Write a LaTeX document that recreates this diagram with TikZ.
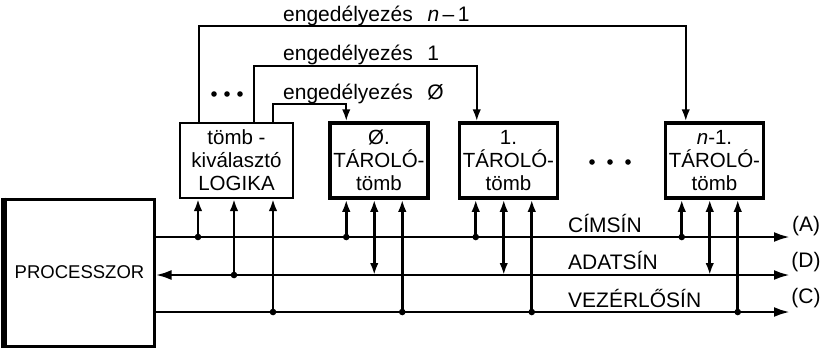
\documentclass[tikz,border=0pt]{standalone}
\usepackage{fontspec}
\setmainfont{Liberation Sans}
\usetikzlibrary{arrows.meta}
\tikzset{
  blokk/.style={draw,line width=2pt,minimum height=75pt,align=center,inner sep=2pt,font=\fontsize{20.5}{23}\selectfont},
  tarolo/.style={blokk,line width=3.5pt,minimum width=98pt},
  busz/.style={line width=2.8pt},
  enged/.style={line width=2.2pt},
  felirat/.style={inner sep=0pt,font=\fontsize{21}{23}\selectfont},
  tip/.style={-{Latex[length=12pt,width=8.5pt]}},
  dtip/.style={{Latex[length=12pt,width=8.5pt]}-{Latex[length=12pt,width=8.5pt]}},
}
\begin{document}
\begin{tikzpicture}[x=1pt,y=-1pt]
    \useasboundingbox (0,0) rectangle (826,349);
    % blocks
    \node[blokk,minimum width=113pt] (lg) at (236.5,160.5) {tömb -\\kiválasztó\\LOGIKA};
    \node[tarolo] (t0) at (379,160.5) {Ø.\\TÁROLÓ-\\tömb};
    \node[tarolo] (t1) at (508.5,160.5) {1.\\TÁROLÓ-\\tömb};
    \node[tarolo] (tn) at (714.5,160.5) {\textit{n}-1.\\TÁROLÓ-\\tömb};
    \node[blokk,line width=3pt,minimum width=149pt,minimum height=147pt,font=\fontsize{18.5}{22}\selectfont] (proc) at (79.5,272.5) {PROCESSZOR};
    \draw[line width=5pt] (proc.north west) -- (proc.south west);
    \foreach \x in {592,610,628} \fill (\x,162) circle (2.8);

    % bus lines
    \coordinate (cimR) at (790,237);
    \coordinate (adatR) at (790,275);
    \coordinate (vezR) at (790,312);
    \draw[busz,-{Latex[length=16pt,width=10pt]}] (proc.east |- cimR) -- (cimR);
    \draw[busz,{Latex[length=16pt,width=10pt]}-{Latex[length=16pt,width=10pt]}] (proc.east |- adatR) -- (adatR);
    \draw[busz,-{Latex[length=16pt,width=10pt]}] (proc.east |- vezR) -- (vezR);
    \node[felirat,anchor=base west] (cim) at (568,232) {CÍMSÍN};
    \node[felirat,anchor=base west] (adat) at (568,269) {ADATSÍN};
    \node[felirat,anchor=base west] (vez) at (568,307) {VEZÉRLŐSÍN};
    \node[felirat] (A) at (806,226) {(A)};
    \node[felirat] (D) at (806,262) {(D)};
    \node[felirat] (C) at (806,298) {(C)};

    % taps of the logic
    \coordinate (lg-a) at ([xshift=19pt]lg.south west);
    \coordinate (lg-d) at ([xshift=55pt]lg.south west);
    \coordinate (lg-c) at ([xshift=94pt]lg.south west);
    \draw[busz,tip] (lg-a |- cimR) -- (lg-a);\fill (lg-a |- cimR) circle (3.3);
    \draw[busz,tip] (lg-d |- adatR) -- (lg-d);\fill (lg-d |- adatR) circle (3.3);
    \draw[busz,tip] (lg-c |- vezR) -- (lg-c);\fill (lg-c |- vezR) circle (3.3);

    % taps of the stores
    \foreach \b in {t0,t1,tn}{
        \coordinate (\b-a) at ([xshift=18pt]\b.south west);
        \coordinate (\b-d) at ([xshift=46pt]\b.south west);
        \coordinate (\b-c) at ([xshift=74pt]\b.south west);
        \draw[busz,tip] (\b-a |- cimR) -- (\b-a);\fill (\b-a |- cimR) circle (3.3);
        \draw[busz,dtip] (\b-d |- adatR) -- (\b-d);
        \draw[busz,tip] (\b-c |- vezR) -- (\b-c);\fill (\b-c |- vezR) circle (3.3);
    }

    % enable lines
    \coordinate (lg-e0) at ([xshift=94pt]lg.north west);
    \coordinate (lg-e1) at ([xshift=75pt]lg.north west);
    \coordinate (lg-en) at ([xshift=20pt]lg.north west);
    \coordinate (t0-e) at ([xshift=18pt]t0.north west);
    \coordinate (t1-e) at ([xshift=19pt]t1.north west);
    \coordinate (tn-e) at ([xshift=22pt]tn.north west);
    \draw[enged,tip] (lg-e0) -- ++(0,-18) -| (t0-e);
    \draw[enged,tip] (lg-e1) -- ++(0,-56) -| (t1-e);
    \draw[enged,tip] (lg-en) -- ++(0,-96) -| (tn-e);
    \node[felirat,anchor=base west] (en0) at (283,99) {engedélyezés\hspace{.7em}Ø};
    \node[felirat,anchor=base west] (en1) at (283,60) {engedélyezés\hspace{.7em}1};
    \node[felirat,anchor=base west] (enn) at (283,21) {engedélyezés\hspace{.7em}\textit{n}\,–\,1};
    \foreach \x in {214,227,240} \fill (\x,94) circle (2.8);
\end{tikzpicture}
\end{document}
